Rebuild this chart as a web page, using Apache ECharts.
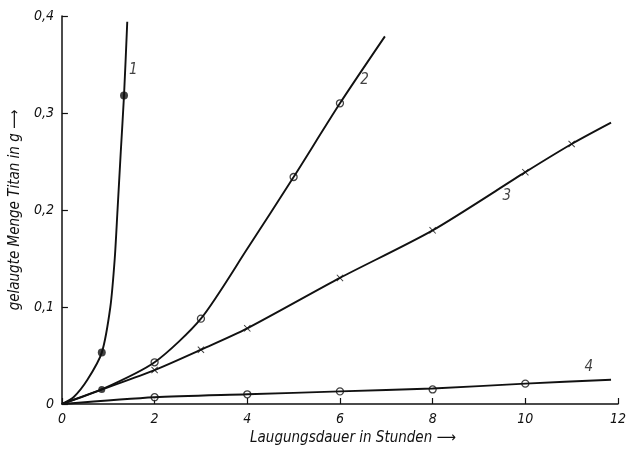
<!DOCTYPE html>
<html>
<head>
<meta charset="utf-8">
<script src="https://cdn.jsdelivr.net/npm/echarts@6/dist/echarts.min.js"></script>
<style>
  html, body { margin: 0; padding: 0; background: #fff; }
  #chart { width: 629px; height: 451px; }
</style>
</head>
<body>
<div id="chart"></div>
<script>
// x ticks (hours) and y ticks (g)
const xTicks = [0, 2, 4, 6, 8, 10, 12];
const yTicks = [0, 0.1, 0.2, 0.3, 0.4];

// curve 1 (filled circles)
const curve1Line = [[0, 0], [0.25, 0.007], [0.55, 0.025], [0.86, 0.053], [1.045, 0.1], [1.14, 0.15], [1.2, 0.2], [1.27, 0.26], [1.34, 0.318], [1.41, 0.394]];
const curve1Pts = [[0.86, 0.053], [1.34, 0.318]];

// curve 2 (open circles)
const curve2Line = [[0, 0], [0.86, 0.015], [2, 0.043], [3, 0.088], [4, 0.16], [5, 0.234], [6, 0.31], [6.97, 0.379]];
const curve2Pts = [[2, 0.043], [3, 0.088], [5, 0.234], [6, 0.31]];

// curve 3 (crosses)
const curve3Line = [[0, 0], [0.86, 0.015], [2, 0.035], [3, 0.056], [4, 0.078], [6, 0.13], [8, 0.179], [10, 0.239], [11, 0.268], [11.85, 0.29]];
const curve3Pts = [[2, 0.035], [3, 0.056], [4, 0.078], [6, 0.13], [8, 0.179], [10, 0.239], [11, 0.268]];

// curve 4 (open circles)
const curve4Line = [[0, 0], [2, 0.007], [4, 0.01], [6, 0.013], [8, 0.016], [10, 0.021], [11.85, 0.025]];
const curve4Pts = [[2, 0.007], [4, 0.01], [6, 0.013], [8, 0.015], [10, 0.021]];

// shared start point of curves 2 and 3
const sharedPts = [[0.86, 0.015]];

// curve numbers
const curveLabels = [['1', 1.54, 0.344], ['2', 6.53, 0.334], ['3', 9.6, 0.214], ['4', 11.37, 0.038]];

const font = "'Liberation Sans Narrow', 'DejaVu Sans Condensed', sans-serif";
const cross = 'path://M0,1L1,0L5,4L9,0L10,1L6,5L10,9L9,10L5,6L1,10L0,9L4,5Z';

const chart = echarts.init(document.getElementById('chart'));

const lineSeries = (data) => ({
  type: 'line', data, smooth: 0.25, showSymbol: false, silent: true,
  lineStyle: { color: '#111', width: 1.9 }
});

const option = {
  animation: false,
  grid: { left: 57, right: 2, top: 16, bottom: 47, containLabel: false },
  xAxis: {
    type: 'value', min: xTicks[0], max: xTicks[xTicks.length - 1], interval: 2,
    splitLine: { show: false },
    axisLine: { lineStyle: { color: '#111', width: 1.5 } },
    axisTick: { inside: true, length: 6, lineStyle: { color: '#111', width: 1.2 } },
    axisLabel: { color: '#111', fontSize: 14, fontStyle: 'italic', fontFamily: font, margin: 8 },
    name: 'Laugungsdauer in Stunden ⟶',
    nameLocation: 'middle', nameGap: 27,
    nameTextStyle: { color: '#111', fontSize: 15, fontStyle: 'italic', fontFamily: font, padding: [0, 0, 0, 26] }
  },
  yAxis: {
    type: 'value', min: yTicks[0], max: yTicks[yTicks.length - 1], interval: 0.1,
    splitLine: { show: false },
    axisLine: { show: true, lineStyle: { color: '#111', width: 1.5 } },
    axisTick: { show: true, inside: true, length: 6, lineStyle: { color: '#111', width: 1.2 } },
    axisLabel: {
      color: '#111', fontSize: 14, fontStyle: 'italic', fontFamily: font, margin: 8,
      formatter: (v) => v === 0 ? '0' : v.toFixed(1).replace('.', ',')
    },
    name: 'gelaugte Menge Titan in g ⟶',
    nameLocation: 'middle', nameGap: 31, nameRotate: 90,
    nameTextStyle: { color: '#111', fontSize: 15, fontStyle: 'italic', fontFamily: font }
  },
  series: [
    lineSeries(curve1Line),
    lineSeries(curve2Line),
    lineSeries(curve3Line),
    lineSeries(curve4Line),
    { type: 'scatter', data: curve1Pts, symbol: 'circle', symbolSize: 8, itemStyle: { color: '#111' } },
    { type: 'scatter', data: curve2Pts.concat(curve4Pts), symbol: 'circle', symbolSize: 7,
      itemStyle: { color: '#fff', borderColor: '#111', borderWidth: 1.3 } },
    { type: 'scatter', data: curve3Pts, symbol: cross, symbolSize: 7, itemStyle: { color: '#111' } },
    { type: 'scatter', data: sharedPts, symbol: 'circle', symbolSize: 7, itemStyle: { color: '#111' } },
    {
      type: 'scatter', data: curveLabels.map((d) => ({ value: [d[1], d[2]], name: d[0] })),
      symbolSize: 0, silent: true,
      label: { show: true, position: 'inside', formatter: (p) => p.name, color: '#111',
        fontSize: 15, fontStyle: 'italic', fontFamily: font }
    }
  ]
};

chart.setOption(option);
</script>
</body>
</html>
